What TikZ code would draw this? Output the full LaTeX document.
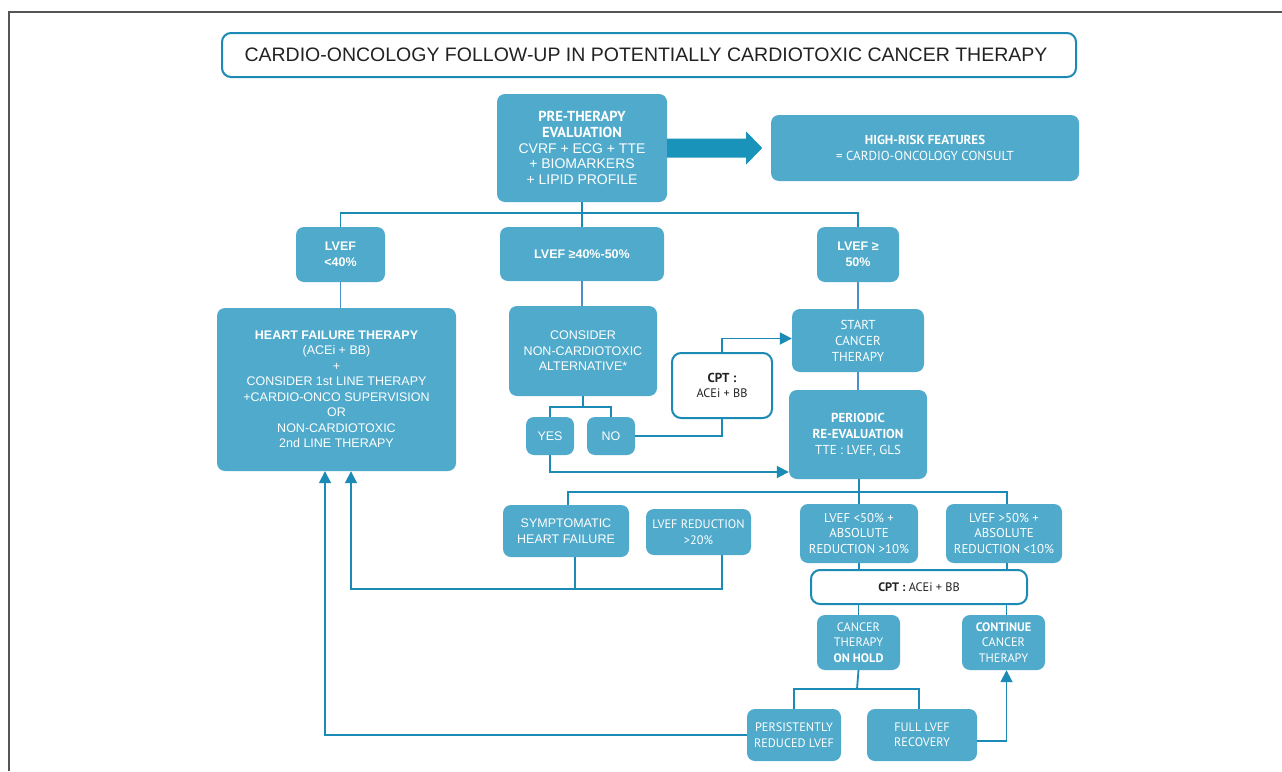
\documentclass[tikz,border=0pt]{standalone}
\usepackage{fontspec}
\setmainfont{Liberation Sans}
\newfontfamily\ar{Liberation Sans}
\newfontfamily\my{PT Sans}
\usetikzlibrary{arrows.meta,calc}
\definecolor{boxc}{HTML}{4FAACB}
\definecolor{linec}{HTML}{1B8AB5}
\definecolor{linel}{HTML}{4C8FCB}
\definecolor{arrc}{HTML}{1A93BB}
\definecolor{framec}{HTML}{555555}
\definecolor{txtc}{HTML}{222222}
\tikzset{
  box/.style={fill=boxc, rounded corners=8pt, text=white, align=center, inner sep=0pt},
  wbox/.style={draw=linec, line width=2pt, fill=white, rounded corners=9pt, text=txtc, align=center, inner sep=0pt},
  conn/.style={draw=linec, line width=1.8pt},
  connl/.style={draw=linel, line width=1.5pt},
  arr/.style={conn, -{Triangle[length=12pt 0 0, width=12pt 0 0]}},
  fa/.style={font=\ar\fontsize{12.5}{15.5}\selectfont},
  fab/.style={font=\ar\bfseries\fontsize{12.5}{15.5}\selectfont},
  fm/.style={font=\my\fontsize{12.3}{15.5}\selectfont},
  fml/.style={font=\my\fontsize{13}{16}\selectfont},
}
\begin{document}
\begin{tikzpicture}[x=1pt,y=-1pt]
\useasboundingbox (0,0) rectangle (1282,771);
\fill[white] (0,0) rectangle (1282,771);
\draw[framec, line width=2pt] (9,771) -- (9,12) -- (1282,12);

% title
\node[draw=linec, line width=2pt, rounded corners=9pt, minimum width=854pt, minimum height=44pt, inner sep=0pt, text=txtc, font=\ar\fontsize{19.5}{22}\selectfont] (title) at (649,55) {\hspace*{-6pt}CARDIO-ONCOLOGY FOLLOW-UP IN POTENTIALLY CARDIOTOXIC CANCER THERAPY};

% top
\node[box, minimum width=170pt, minimum height=108pt, font=\ar\fontsize{14}{15.7}\selectfont] (pre) at (582,148) {{\my\bfseries\fontsize{14.5}{15.7}\selectfont PRE-THERAPY}\\{\my\bfseries\fontsize{14.5}{15.7}\selectfont EVALUATION}\\CVRF + ECG + TTE\\+ BIOMARKERS\\+ LIPID PROFILE};
\node[box, minimum width=308pt, minimum height=66pt, fml] (hr) at (925,148) {\textbf{HIGH-RISK FEATURES}\\= CARDIO-ONCOLOGY CONSULT};
\fill[arrc] ($(pre.east)+(0,-9.5)$) -- ++(79,0) -- ++(0,-7) -- ++(16,16.5) -- ++(-16,16.5) -- ++(0,-7) -- ++(-79,0) -- cycle;

% LVEF row
\node[box, minimum width=89pt, minimum height=55pt, fab] (l40) at (340.5,254.5) {LVEF\\<40\%};
\node[box, minimum width=164pt, minimum height=54pt, fab] (l4050) at (582,254) {LVEF ≥40\%-50\%};
\node[box, minimum width=82pt, minimum height=55pt, fab] (l50) at (858,254.5) {LVEF ≥\\50\%};

% second row
\node[box, minimum width=239pt, minimum height=163pt, fa] (hf) at (336.5,389.5) {\textbf{HEART FAILURE THERAPY}\\(ACEi + BB)\\+\\CONSIDER 1st LINE THERAPY\\+CARDIO-ONCO SUPERVISION\\OR\\NON-CARDIOTOXIC\\2nd LINE THERAPY};
\node[box, minimum width=148pt, minimum height=90pt, fa] (cons) at (583,351) {CONSIDER\\NON-CARDIOTOXIC\\ALTERNATIVE*};
\node[box, minimum width=48pt, minimum height=38pt, fa] (yes) at (550,436) {YES};
\node[box, minimum width=48pt, minimum height=38pt, fa] (no) at (611,436) {NO};
\node[wbox, minimum width=100pt, minimum height=65pt, fm] (cpt1) at (722,385.5) {\textbf{\fontsize{13}{15.5}\selectfont CPT :}\\ACEi + BB};
\node[box, minimum width=132pt, minimum height=63pt, fml] (start) at (858,340.5) {START\\CANCER\\THERAPY};
\node[box, minimum width=138pt, minimum height=89pt, fml] (per) at (858,434.5) {\textbf{PERIODIC}\\\textbf{RE-EVALUATION}\\TTE : LVEF, GLS};

% third row
\node[box, minimum width=126pt, minimum height=52pt, fa] (sym) at (566,531) {SYMPTOMATIC\\HEART FAILURE};
\node[box, minimum width=105pt, minimum height=46pt, fm] (lred) at (698.5,532) {LVEF REDUCTION\\>20\%};
\node[box, minimum width=118pt, minimum height=59pt, fm, font=\my\fontsize{12.8}{15.5}\selectfont] (l50a) at (859,533.5) {LVEF <50\% +\\ABSOLUTE\\REDUCTION >10\%};
\node[box, minimum width=116pt, minimum height=59pt, fm, font=\my\fontsize{12.8}{15.5}\selectfont] (l50b) at (1004,533.5) {LVEF >50\% +\\ABSOLUTE\\REDUCTION <10\%};
\node[wbox, minimum width=216pt, minimum height=34pt, fm] (cpt2) at (919,587) {\textbf{CPT :} ACEi + BB};
\node[box, minimum width=83pt, minimum height=55pt, fm] (hold) at (858.5,642.5) {CANCER\\THERAPY\\\textbf{ON HOLD}};
\node[box, minimum width=83pt, minimum height=55pt, fm] (cont) at (1003.5,642.5) {\textbf{CONTINUE}\\CANCER\\THERAPY};
\node[box, minimum width=94pt, minimum height=52pt, fm] (pers) at (794,735) {PERSISTENTLY\\REDUCED LVEF};
\node[box, minimum width=110pt, minimum height=52pt, fm] (full) at (922,735) {FULL LVEF\\RECOVERY};

% connectors
\coordinate (j1) at (582,213);
\draw[conn] (pre.south) -- (j1);
\draw[conn] (l40.north) |- (j1) -| (l50.north);
\draw[conn] (j1) -- (l4050.north);
\draw[connl] (l40.south) -- (l40.south |- hf.north);
\draw[connl] (l4050.south) -- (l4050.south |- cons.north);
\draw[connl] (l50.south) -- (start.north);
\draw[connl] (start.south) -- (per.north);
\coordinate (j2) at (583,407);
\draw[conn] (cons.south) -- (j2);
\draw[conn] (yes.north) |- (j2) -| (no.north);
\draw[conn] (no.east) -| (cpt1.south);
\draw[arr] (cpt1.north) |- ($(start.west)+(0,-2)$);
\draw[arr] (yes.south) |- ($(per.west)+(0,37.5)$);

\coordinate (j3) at (859,492);
\draw[conn] (j3 |- per.south) -- (j3);
\draw[conn] ($(sym.north)+(2,0)$) |- (j3) -| ($(l50b.north)+(3,0)$);
\draw[conn] (j3) -- (l50a.north);

\coordinate (j4) at (351,589);
\coordinate (s1) at ($(sym.south)+(9,0)$);
\draw[conn] (s1) -- (s1 |- j4);
\draw[arr] ($(lred.south)+(23.5,0)$) |- (j4) -- (j4 |- hf.south);
\draw[arr] (pers.west) -| ($(hf.south)+(-11.5,0)$);

\draw[conn] (l50a.south) -- (l50a.south |- cpt2.north);
\draw[conn] ($(l50b.south)+(3,0)$) -- ($(l50b.south |- cpt2.north)+(3,0)$);
\draw[conn] (cpt2.south -| hold.north) -- (hold.north);
\draw[conn] ($(cpt2.south -| cont.north)+(3,0)$) -- ($(cont.north)+(3,0)$);
\coordinate (j5) at (857,689);
\draw[conn] (hold.south |- 0,670) -- (j5);
\draw[conn] (pers.north) |- (j5) -| ($(full.north)+(-3,0)$);
\draw[arr] ($(full.east)+(0,6)$) -| ($(cont.south)+(3,0)$);
\end{tikzpicture}
\end{document}
